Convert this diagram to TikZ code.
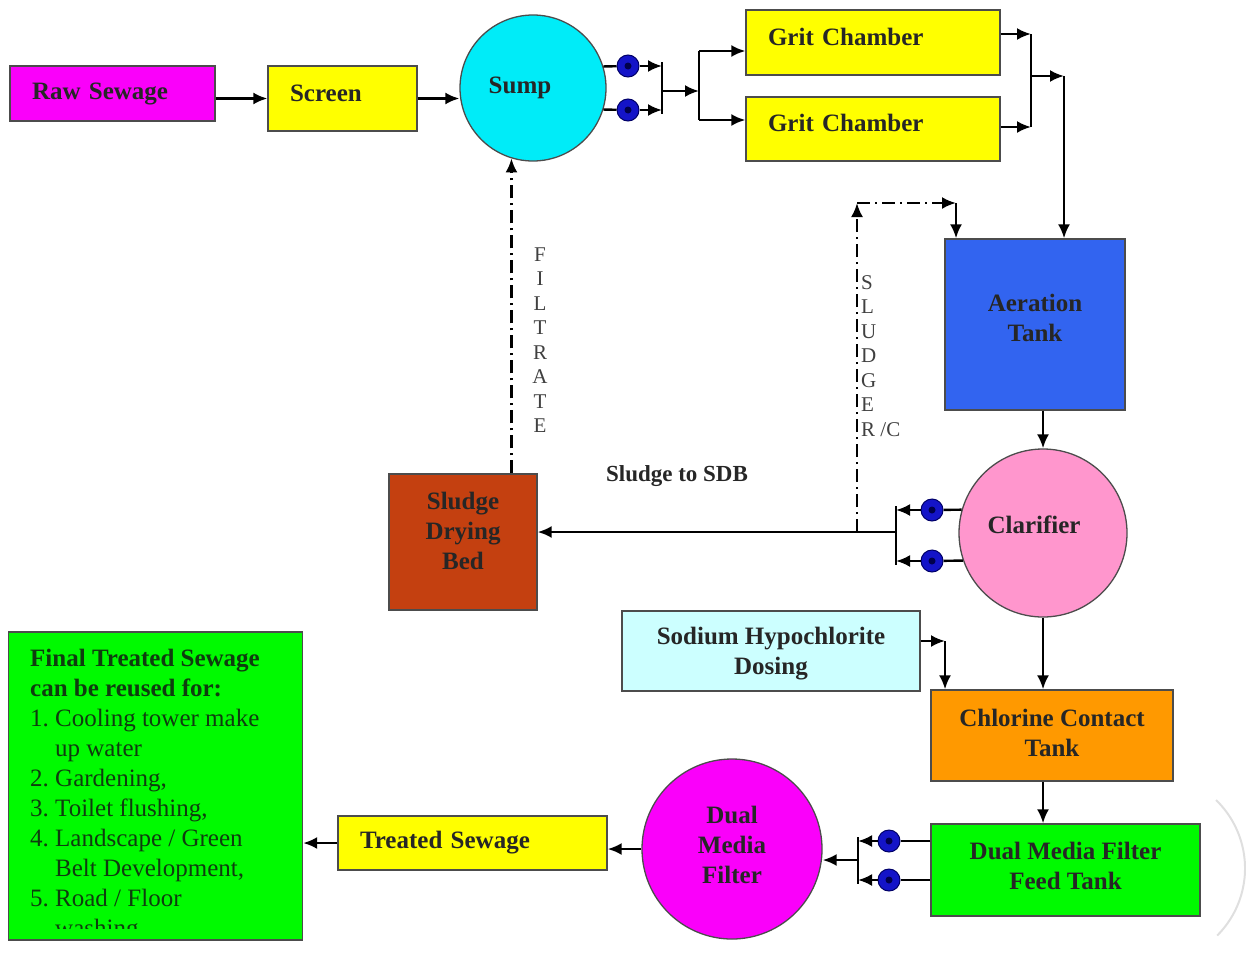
\documentclass[tikz,border=0pt]{standalone}
\usepackage{fontspec}
\setmainfont{Liberation Serif}
\usetikzlibrary{positioning, shapes.geometric, arrows.meta}
\definecolor{rawmag}{RGB}{250,0,250}
\definecolor{screenyel}{RGB}{255,255,0}
\definecolor{sumpcyan}{RGB}{0,236,248}
\definecolor{aerblue}{RGB}{50,100,240}
\definecolor{clarpink}{RGB}{255,150,205}
\definecolor{bedbrown}{RGB}{196,64,16}
\definecolor{dosecyan}{RGB}{204,255,255}
\definecolor{chlororange}{RGB}{255,153,0}
\definecolor{feedgreen}{RGB}{0,250,0}
\definecolor{pumpblue}{RGB}{20,20,200}
\definecolor{inkgreen}{RGB}{15,60,15}
\tikzstyle{arrow} = [line width=2.4pt,>={Latex[length=14pt,width=12pt]},->]

\begin{document}
\begin{tikzpicture}[x=1pt, y=-1pt,
    every node/.style={font=\fontsize{25}{30}\selectfont\bfseries, text=black!85},
    tank/.style={draw=black!70, line width=1.3pt, inner sep=0pt, align=center},
    tag/.style={draw=black!70, line width=1.3pt, inner ysep=0pt, inner xsep=22pt, align=left},
    pool/.style={circle, draw=black!70, line width=1.3pt, inner sep=0pt, align=center},
    lift/.style={text height=17pt, text depth=#1},
    pump/.style={circle, draw=blue!40!black, line width=1pt, fill=pumpblue, minimum size=22pt, inner sep=0pt,
      path picture={\fill[blue!30!black] (path picture bounding box.center) circle (3.5pt);}},
    flow/.style={line width=2.4pt},
    recycle/.style={dash pattern=on 13pt off 5pt on 2pt off 5pt},
    vtext/.style={font=\fontsize{21}{24.5}\selectfont, text=black!75, inner sep=0pt, align=center}
  ]
  \useasboundingbox (0,0) rectangle (1246,953);

  % top line
  \node[tag, fill=rawmag, text width=161pt, minimum height=55pt] (raw) at (112.5,93.5) {Raw Sewage};
  \node[tag, lift=11pt, fill=screenyel, text width=105pt, minimum height=65pt] (screen) at (342.5,98.5) {Screen};
  \node[pool, lift=6pt, fill=sumpcyan, minimum size=146pt] (sump) at (533,88) {Sump\hspace{26pt}};
  \node[pump] (p1) at (628,66) {};
  \node[pump] (p2) at (628,110) {};
  \node[tag, lift=12pt, fill=screenyel, text width=210pt, minimum height=65pt] (grit1) at (873,42.5) {Grit Chamber};
  \node[tag, lift=12pt, fill=screenyel, text width=210pt, minimum height=64pt] (grit2) at (873,129) {Grit Chamber};

  % middle
  \node[tank, text depth=14pt, fill=aerblue, minimum width=180pt, minimum height=171pt] (aer) at (1035,324.5) {Aeration\\Tank};
  \node[pool, lift=16pt, fill=clarpink, minimum size=168pt] (clar) at (1043,533) {Clarifier\hspace{18pt}};
  \node[pump] (cp1) at (932,510) {};
  \node[pump] (cp2) at (932,561) {};
  \node[tank, text depth=22pt, fill=bedbrown, minimum width=148pt, minimum height=136pt] (sdb) at (463,542) {Sludge\\Drying\\Bed};
  \node (sdblabel) at (677,476) {\fontsize{23}{27}\selectfont Sludge to SDB};
  \node[vtext] (filtrate) at (540,340) {F\\I\\L\\T\\R\\A\\T\\E};
  \node[vtext, align=left, anchor=west] (sludgerc) at (861,356) {S\\L\\U\\D\\G\\E\\R /C};

  % bottom
  \node[tank, text depth=0pt, fill=dosecyan, minimum width=298pt, minimum height=80pt] (naocl) at (771,651) {Sodium Hypochlorite\\Dosing};
  \node[tank, text depth=6pt, fill=chlororange, minimum width=242pt, minimum height=91pt] (cct) at (1052,735.5) {Chlorine Contact\\Tank};
  \node[tank, text depth=8pt, fill=feedgreen, minimum width=269pt, minimum height=92pt] (feed) at (1065.5,870) {Dual Media Filter\\Feed Tank};
  \node[pump] (fp1) at (889,841) {};
  \node[pump] (fp2) at (889,880) {};
  \node[pool, text depth=8pt, fill=rawmag, minimum size=180pt] (dmf) at (732,849) {Dual\\Media\\Filter};
  \node[tag, fill=screenyel, text width=225pt, minimum height=54pt] (treated) at (472.5,843) {Treated Sewage};
  \node[draw=black!70, line width=1.3pt, fill=feedgreen, minimum width=294pt, minimum height=308pt, inner sep=0pt] (final) at (155.5,786) {};
  \begin{scope}
    \clip (final.north west) rectangle ([yshift=12pt]final.south east);
    \node[anchor=north west, align=left, inner sep=0pt, text=inkgreen, font=\fontsize{25}{30}\selectfont] (reuse) at (30,649)
      {\textbf{Final Treated Sewage}\\\textbf{can be reused for:}\\
       1.\ Cooling tower make\\\hphantom{1.\ }up water\\
       2.\ Gardening,\\3.\ Toilet flushing,\\
       4.\ Landscape / Green\\\hphantom{4.\ }Belt Development,\\
       5.\ Road / Floor\\\hphantom{5.\ }washing};
  \end{scope}
  \draw[gray!25, line width=2pt] (1216,800) arc[start angle=-46, end angle=45, radius=95];

  % connectors top
  \draw[arrow] (raw.east |- screen) -- (screen.west);
  \draw[arrow] (screen.east) -- (sump.west |- screen.east);
  \draw[flow] (sump.17.5) -- (p1);
  \draw[flow] (sump.-17.5) -- (p2);
  \coordinate (ja1) at (662,66);
  \coordinate (ja2) at (662,110);
  \coordinate (ja) at (662,91);
  \coordinate (jb) at (699,91);
  \coordinate (jb1) at (699,51);
  \coordinate (jb2) at (699,120);
  \draw[arrow] (p1) -- (ja1);
  \draw[arrow] (p2) -- (ja2);
  \draw[flow] ([yshift=4pt]ja1) -- ([yshift=-4pt]ja2);
  \draw[arrow] (ja) -- (jb);
  \draw[flow] (jb1) -- (jb2);
  \draw[arrow] (jb1) -- (jb1 -| grit1.west);
  \draw[arrow] (jb2) -- (jb2 -| grit2.west);
  \coordinate (jc1) at (1031,34);
  \coordinate (jc2) at (1031,127);
  \coordinate (jc) at (1031,76);
  \coordinate (jd) at (1064,76);
  \draw[arrow] (grit1.east |- jc1) -- (jc1);
  \draw[arrow] (grit2.east |- jc2) -- (jc2);
  \draw[flow] (jc1) -- (jc2);
  \draw[arrow] (jc) -- (jd);
  \draw[arrow] (jd) -- (jd |- aer.north);

  % sludge return and filtrate
  \coordinate (je1) at (896,510);
  \coordinate (je2) at (896,561);
  \coordinate (je) at (896,532);
  \coordinate (rc0) at (857,532);
  \coordinate (rc1) at (857,203);
  \coordinate (rc2) at (956,203);
  \draw[arrow] (aer.south -| clar) -- (clar.north);
  \draw[flow] (clar.164) -- (cp1);
  \draw[flow] (clar.199.5) -- (cp2);
  \draw[arrow] (cp1) -- (je1);
  \draw[arrow] (cp2) -- (je2);
  \draw[flow] ([yshift=4pt]je1) -- ([yshift=-4pt]je2);
  \draw[arrow] (je) -- (je -| sdb.east);
  \draw[arrow, recycle] (rc0) -- (rc1);
  \draw[arrow, recycle] (rc1) -- (rc2);
  \draw[arrow] (rc2) -- (rc2 |- aer.north);
  \draw[arrow, recycle] (sump.253.3 |- sdb.north) -- (sump.253.3);

  % connectors bottom
  \coordinate (jf) at (945,641);
  \draw[arrow] (naocl.east |- jf) -- (jf);
  \draw[arrow] (jf) -- (jf |- cct.north);
  \draw[arrow] (clar.south) -- (clar.south |- cct.north);
  \draw[arrow] (cct.south -| clar) -- (feed.north -| clar);
  \draw[flow] (feed.west |- fp1) -- (fp1);
  \draw[flow] (feed.west |- fp2) -- (fp2);
  \coordinate (jg1) at (858,841);
  \coordinate (jg2) at (858,880);
  \coordinate (jg) at (858,860);
  \draw[arrow] (fp1) -- (jg1);
  \draw[arrow] (fp2) -- (jg2);
  \draw[flow] ([yshift=4pt]jg1) -- ([yshift=-4pt]jg2);
  \draw[arrow] (jg) -- (jg -| dmf.east);
  \draw[arrow] (dmf.west) -- (dmf.west -| treated.east);
  \draw[arrow] (treated.west) -- (treated.west -| final.east);
\end{tikzpicture}
\end{document}
